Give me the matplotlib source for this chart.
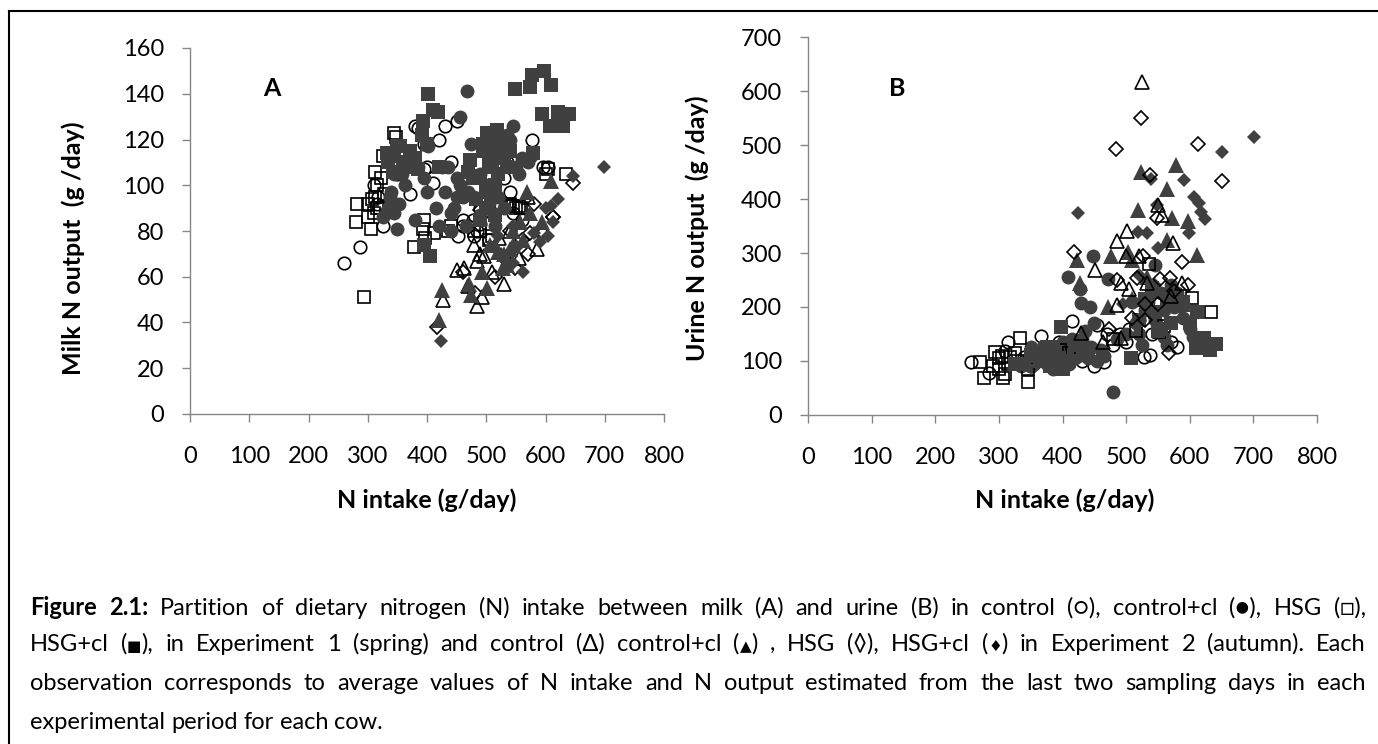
import re
import matplotlib
matplotlib.use('Agg')
import matplotlib.pyplot as plt
from matplotlib.lines import Line2D

W, H = 1378, 744
DARK = '#404040'
GREY = '#868686'
plt.rcParams['font.family'] = ['Lato', 'DejaVu Sans']

# panel A: milk N output against N intake
a_ctrl1_x = [260, 287, 310, 315, 318, 325, 340, 350, 365, 372, 375, 380, 385, 395, 395, 400, 410, 420, 430, 440, 450, 452, 460, 470, 480, 490, 490, 500, 510, 520, 535, 540, 545, 560, 577, 595, 590, 605, 460, 478, 484, 505, 530]
a_ctrl1_y = [66, 73, 100, 92, 95, 82, 92, 105, 108, 96, 110, 126, 125, 118, 107, 108, 101, 120, 126, 110, 128, 78, 85, 82, 78, 90, 83, 95, 88, 92, 110, 97, 88, 85, 120, 108, 80, 108, 82, 85, 80, 76, 103]
a_ctrlcl1_x = [335, 330, 340, 345, 350, 358, 363, 370, 380, 385, 400, 415, 420, 430, 435, 445, 450, 456, 460, 468, 475, 480, 490, 500, 510, 520, 540, 545, 555, 560, 570, 575, 402, 440, 465, 345, 352, 530, 550, 505, 515, 490, 425, 450, 470, 325, 338, 395, 500, 520, 535, 455, 440]
a_ctrlcl1_y = [90, 88, 97, 105, 81, 105, 100, 115, 85, 108, 97, 90, 82, 97, 108, 90, 95, 130, 95, 141, 118, 95, 105, 100, 113, 117, 120, 126, 105, 112, 110, 113, 117, 80, 82, 88, 92, 90, 108, 92, 82, 87, 108, 103, 97, 86, 95, 103, 118, 95, 122, 100, 88]
a_hsg1_x = [294, 280, 282, 305, 300, 310, 312, 316, 322, 313, 325, 345, 348, 378, 393, 397, 435, 440, 480, 490, 505, 510, 525, 535, 545, 555, 558, 600, 605, 635, 320, 300, 308, 395, 412, 315, 328, 540, 550]
a_hsg1_y = [51, 84, 92, 81, 86, 88, 95, 100, 103, 106, 113, 123, 121, 73, 81, 77, 80, 82, 80, 80, 76, 78, 90, 91, 91, 91, 90, 105, 107, 105, 90, 92, 94, 85, 79, 90, 96, 92, 90]
a_hsgcl1_x = [401, 549, 577, 597, 609, 574, 594, 621, 640, 608, 630, 410, 419, 393, 392, 332, 345, 355, 360, 371, 380, 343, 395, 405, 501, 518, 526, 510, 495, 472, 508, 579, 520, 505, 490, 530, 515, 500, 478, 482, 400, 420, 540, 365, 350, 335, 385, 525, 535, 510, 495, 500, 515, 470, 490]
a_hsgcl1_y = [140, 142, 148, 150, 144, 143, 131, 132, 131, 126, 126, 133, 132, 128, 122, 114, 113, 117, 110, 115, 112, 106, 74, 69, 123, 124, 120, 118, 115, 111, 95, 114, 105, 110, 104, 112, 100, 97, 103, 94, 118, 108, 115, 108, 117, 110, 107, 115, 108, 108, 118, 90, 87, 106, 85]
a_ctrl2_x = [427, 484, 493, 530, 450, 463, 484, 489, 496, 522, 585, 570, 470, 510, 480, 555, 540]
a_ctrl2_y = [50, 47, 51, 57, 63, 64, 67, 70, 69, 77, 72, 95, 56, 62, 74, 68, 80]
a_ctrlcl2_x = [425, 420, 471, 492, 501, 506, 515, 528, 545, 562, 557, 574, 594, 569, 609, 520, 535, 475, 545, 540, 530]
a_ctrlcl2_y = [54, 41, 57, 62, 55, 74, 74, 64, 74, 76, 84, 88, 84, 97, 102, 71, 65, 52, 80, 72, 70]
a_hsg2_x = [417, 481, 461, 515, 549, 574, 596, 612, 647, 612, 489, 560, 570, 540, 530, 580]
a_hsg2_y = [38, 53, 62, 60, 64, 79, 79, 86, 101, 86, 89, 76, 70, 80, 68, 92]
a_hsgcl2_x = [424, 562, 590, 613, 699, 647, 621, 610, 600, 535, 525, 545, 552, 520, 545, 580, 605]
a_hsgcl2_y = [32, 62, 75, 84, 108, 104, 94, 91, 90, 65, 70, 66, 73, 78, 82, 79, 78]

# panel B: urine N output against N intake
b_ctrl1_x = [256, 285, 314, 366, 415, 454, 450, 465, 528, 538, 580, 310, 340, 350, 375, 395, 430, 440, 490, 500, 505, 520, 540, 555, 570, 480, 470]
b_ctrl1_y = [98, 78, 135, 146, 174, 167, 91, 98, 107, 111, 126, 118, 108, 90, 120, 135, 100, 120, 150, 135, 160, 175, 150, 175, 135, 130, 150]
b_ctrlcl1_x = [480, 409, 448, 472, 546, 428, 429, 443, 340, 350, 360, 370, 380, 395, 405, 420, 430, 445, 455, 465, 350, 375, 400, 415, 500, 515, 525, 540, 550, 560, 575, 590, 600, 605, 485, 510, 530, 565, 435, 450, 335, 345, 355, 365, 385, 410, 425, 440, 460, 385, 400, 420, 520, 535, 555, 570, 545, 560, 580]
b_ctrlcl1_y = [43, 256, 294, 252, 278, 234, 207, 200, 100, 90, 110, 125, 100, 95, 130, 105, 140, 125, 100, 110, 125, 95, 115, 140, 150, 170, 130, 190, 165, 145, 200, 180, 160, 145, 140, 210, 195, 130, 155, 170, 90, 100, 95, 105, 85, 95, 110, 105, 120, 115, 135, 120, 150, 210, 225, 240, 175, 195, 225]
b_hsg1_x = [603, 634, 536, 552, 333, 294, 277, 307, 346, 270, 396, 300, 315, 325, 290, 560, 515, 480, 410, 300, 310, 345, 318, 305, 330]
b_hsg1_y = [216, 191, 280, 154, 142, 117, 68, 69, 61, 98, 120, 105, 95, 115, 90, 165, 155, 140, 115, 85, 75, 85, 108, 110, 100]
b_hsgcl1_x = [623, 610, 642, 632, 508, 588, 600, 398, 612, 580, 590, 570, 545, 530, 520, 555, 380, 360, 340, 400, 420, 440, 385, 365, 325, 350, 395, 375, 410, 540, 565, 550]
b_hsgcl1_y = [143, 124, 131, 120, 105, 209, 170, 163, 190, 212, 210, 170, 190, 215, 175, 160, 90, 110, 95, 85, 130, 115, 125, 100, 95, 112, 105, 125, 100, 235, 210, 155]
b_ctrl2_x = [525, 502, 486, 574, 550, 556, 451, 492, 505, 533, 588, 486, 429, 464, 492, 520, 570, 500]
b_ctrl2_y = [617, 341, 322, 318, 389, 370, 269, 244, 233, 244, 244, 204, 152, 135, 142, 295, 220, 295]
b_ctrlcl2_x = [523, 579, 564, 519, 572, 597, 564, 423, 476, 503, 509, 612, 428, 533, 472, 510, 540, 590]
b_ctrlcl2_y = [450, 463, 418, 380, 365, 359, 324, 287, 294, 302, 287, 296, 244, 256, 200, 215, 230, 205]
b_hsg2_x = [523, 484, 613, 650, 538, 548, 418, 527, 588, 517, 553, 569, 597, 575, 473, 568, 550, 530, 510, 485, 530]
b_hsg2_y = [550, 492, 502, 433, 444, 365, 302, 294, 283, 254, 252, 253, 241, 230, 159, 114, 205, 205, 180, 250, 175]
b_hsgcl2_x = [701, 650, 591, 539, 425, 607, 615, 617, 624, 599, 519, 533, 549, 550, 545, 570, 520, 495, 585]
b_hsgcl2_y = [515, 487, 435, 437, 374, 404, 392, 375, 363, 337, 339, 337, 389, 309, 240, 225, 260, 205, 200]

x_ticks = [0, 100, 200, 300, 400, 500, 600, 700, 800]
a_ticks = [0, 20, 40, 60, 80, 100, 120, 140, 160]
b_ticks = [0, 100, 200, 300, 400, 500, 600, 700]

caption = [
    [('Figure', True), ('2.1:', True)] + [(w, False) for w in 'Partition of dietary nitrogen (N) intake between milk (A) and urine (B) in control (○), control+cl (●), HSG (□),'.split()],
    [(w, False) for w in 'HSG+cl (■), in Experiment 1 (spring) and control (Δ) control+cl (▲) , HSG (◊), HSG+cl (♦) in Experiment 2 (autumn). Each'.split()],
    [(w, False) for w in 'observation corresponds to average values of N intake and N output estimated from the last two sampling days in each'.split()],
    [(w, False) for w in 'experimental period for each cow.'.split()],
]
caption_y = [615, 651, 690, 729]


def make_axes(fig, left, right, top, bottom, xmax, ymax, xticks, yticks):
    ax = fig.add_axes([left / W, 1 - bottom / H, (right - left) / W, (bottom - top) / H])
    ax.set_xlim(0, xmax)
    ax.set_ylim(0, ymax)
    ax.set_xticks(xticks)
    ax.set_yticks(yticks)
    for s in ['top', 'right']:
        ax.spines[s].set_visible(False)
    for s in ['left', 'bottom']:
        ax.spines[s].set_color(GREY)
        ax.spines[s].set_linewidth(1.0)
    ax.tick_params(color=GREY, length=5.8, width=1.0, labelsize=17)
    ax.tick_params(axis='x', pad=17)
    ax.tick_params(axis='y', pad=13)
    return ax


def scatter(ax, x, y, marker, filled, ms=10):
    if filled:
        ax.plot(x, y, marker, ms=ms, color=DARK, mec=DARK, mew=0, clip_on=False)
    else:
        ax.plot(x, y, marker, ms=ms - 1, mfc='none', mec='black', mew=1.2, clip_on=False)


def labels(fig, ax, xlabel, ylabel, xpos, ypos):
    ax.set_xlabel(xlabel, fontsize=18, fontweight='bold')
    ax.set_ylabel(ylabel, fontsize=18, fontweight='bold')
    ax.xaxis.set_label_coords(xpos[0] / W, 1 - xpos[1] / H, transform=fig.transFigure)
    ax.yaxis.set_label_coords(ypos[0] / W, 1 - ypos[1] / H, transform=fig.transFigure)


def draw_caption(fig):
    rend = fig.canvas.get_renderer()
    left, right = 30, 1366
    for i, (words, y) in enumerate(zip(caption, caption_y)):
        runs = []
        total = 0
        for w, bold in words:
            word_runs = []
            for part in re.split('([■▲♦])', w):
                if not part:
                    continue
                size = 11 if part in '■▲♦' else 17
                t = fig.text(0, 1 - y / H, part, fontsize=size, va='baseline',
                             fontweight='bold' if bold else 'normal')
                width = t.get_window_extent(rend).width
                word_runs.append((t, width))
                total += width
            runs.append(word_runs)
        gap = (right - left - total) / (len(words) - 1) if i < 3 else 6
        px = left
        for word_runs in runs:
            for t, width in word_runs:
                t.set_x(px / W)
                px += width
            px += gap


fig = plt.figure(figsize=(W / 100, H / 100), dpi=100)
fig.add_artist(Line2D([8.5 / W, 1], [1 - 11 / H, 1 - 11 / H], transform=fig.transFigure, color='black', lw=1.5))
fig.add_artist(Line2D([8.5 / W, 8.5 / W], [1 - 11 / H, 0], transform=fig.transFigure, color='black', lw=1.5))

ax_a = make_axes(fig, 190, 664, 48, 414, 800, 160, x_ticks, a_ticks)
scatter(ax_a, a_ctrl1_x, a_ctrl1_y, 'o', False)
scatter(ax_a, a_hsg1_x, a_hsg1_y, 's', False)
scatter(ax_a, a_ctrl2_x, a_ctrl2_y, '^', False, ms=11.5)
scatter(ax_a, a_hsg2_x, a_hsg2_y, 'D', False, ms=8)
scatter(ax_a, a_ctrlcl1_x, a_ctrlcl1_y, 'o', True)
scatter(ax_a, a_hsgcl1_x, a_hsgcl1_y, 's', True)
scatter(ax_a, a_ctrlcl2_x, a_ctrlcl2_y, '^', True, ms=11.5)
scatter(ax_a, a_hsgcl2_x, a_hsgcl2_y, 'D', True, ms=7.5)
labels(fig, ax_a, 'N intake (g/day)', 'Milk N output  (g /day)', (427, 488), (85, 248))
fig.text(272 / W, 1 - 88 / H, 'A', fontsize=18, fontweight='bold', va='center', ha='center')

ax_b = make_axes(fig, 808, 1317, 37, 415, 800, 700, x_ticks, b_ticks)
scatter(ax_b, b_ctrl1_x, b_ctrl1_y, 'o', False)
scatter(ax_b, b_ctrlcl1_x, b_ctrlcl1_y, 'o', True)
scatter(ax_b, b_hsg1_x, b_hsg1_y, 's', False)
scatter(ax_b, b_hsgcl1_x, b_hsgcl1_y, 's', True)
scatter(ax_b, b_ctrlcl2_x, b_ctrlcl2_y, '^', True, ms=11.5)
scatter(ax_b, b_hsgcl2_x, b_hsgcl2_y, 'D', True, ms=7.5)
scatter(ax_b, b_ctrl2_x, b_ctrl2_y, '^', False, ms=11.5)
scatter(ax_b, b_hsg2_x, b_hsg2_y, 'D', False, ms=8)
labels(fig, ax_b, 'N intake (g/day)', 'Urine N output  (g /day)', (1065, 488), (709, 228))
fig.text(897 / W, 1 - 88 / H, 'B', fontsize=18, fontweight='bold', va='center', ha='center')

fig.canvas.draw()
draw_caption(fig)
fig.savefig('out.png', dpi=100)
